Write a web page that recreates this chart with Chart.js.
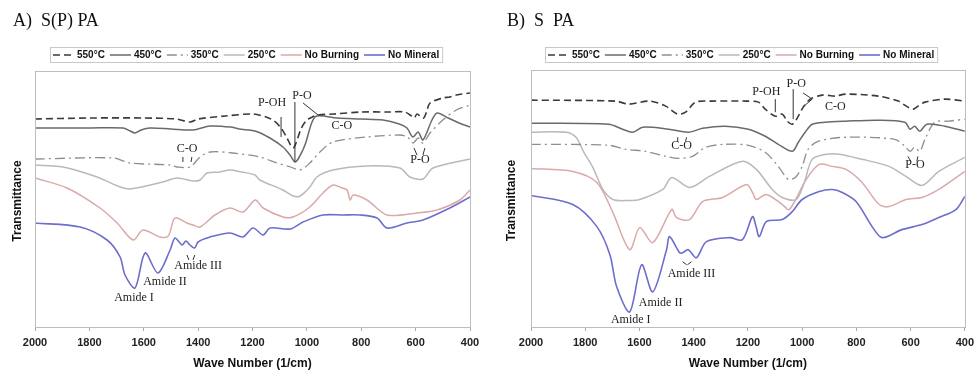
<!DOCTYPE html>
<html>
<head>
<meta charset="utf-8">
<script src="https://cdn.jsdelivr.net/npm/chart.js@4.4.0/dist/chart.umd.min.js"></script>
<style>
    body { margin: 0; background: #fff; }
    .panel { position: absolute; top: 0; height: 378px; }
    #panelA { left: 0; width: 490px; }
    #panelB { left: 490px; width: 489px; }
</style>
</head>
<body>
<div class="panel" id="panelA"><canvas id="chartA"></canvas></div>
<div class="panel" id="panelB"><canvas id="chartB"></canvas></div>
<script>
// series names (legend order)
const seriesLabels = ['550°C', '450°C', '350°C', '250°C', 'No Burning', 'No Mineral'];
const xTicks = [2000, 1800, 1600, 1400, 1200, 1000, 800, 600, 400];

// ---- A) S(P) PA  (wave number, transmittance in arbitrary units) ----
const a550wn = [2000,1800,1600,1480,1430,1400,1300,1200,1150,1120,1095,1075,1060,1050,1040,1020,1000,980,960,900,800,700,640,615,605,595,580,570,560,547,500,474,450,400];
const a550 = [208,209,209,208,205,208,211,213,210,206,199,190,182,179,184,199,207,210,212,213,215,215,215,211,209,213,210,209,215,224,229,230,232,234];
const a450wn = [2000,1800,1676,1650,1632,1610,1577,1500,1419,1356,1280,1250,1191,1136,1088,1062,1044,1030,1007,981,963,889,800,720,660,632,610,591,573,540,521,480,440,400];
const a450 = [199,199,199,196,194,197,199,198,197,201,200,198,196,189,180,172,165,169,182,205,211,209,208,207,203,199,190,195,187,207,214,209,204,200];
const a350wn = [2000,1713,1650,1503,1478,1430,1393,1356,1272,1173,1110,1060,1025,989,952,904,779,658,630,610,590,573,547,500,450,400];
const a350 = [168,169,164,162,160,160,170,175,174,170,164,160,157,164,175,185,190,192,190,184,189,184,194,207,217,222];
const a250wn = [2000,1897,1772,1687,1650,1529,1478,1419,1393,1367,1320,1283,1240,1191,1173,1088,1051,1025,989,963,904,779,658,621,573,536,400];
const a250 = [162,160,150,140,138,145,149,146,147,154,155,157,155,152,147,137,131,131,140,150,157,161,159,150,148,159,168];
const aBurnWn = [2000,1882,1761,1698,1639,1603,1540,1510,1485,1441,1419,1393,1338,1283,1235,1190,1161,1088,1051,989,941,904,870,852,841,830,779,705,595,521,437,400];
const aBurn = [149,139,119,104,87,97,90,91,109,104,102,100,112,119,115,127,119,110,110,120,134,142,139,137,127,132,127,112,114,117,127,137];
const aMinWn = [2000,1834,1735,1687,1669,1632,1595,1548,1503,1485,1459,1445,1430,1413,1400,1356,1283,1235,1198,1161,1136,1062,1014,941,867,805,742,705,632,573,474,400];
const aMin = [104,100,87,70,52,39,74,54,77,89,82,86,82,79,85,90,94,90,99,92,99,98,105,112,112,112,109,99,104,107,119,130];

// band labels: text, wave number, transmittance
const aNotes = [['P-OH',1128,224],['P-O',1018,231],['C-O',871,201],['P-O',584,167],['C-O',1441,178],
                ['Amide I',1636,29],['Amide II',1522,45],['Amide III',1400,61]];
const aPointers = [[1095,210,1095,190],[1044,225,1044,165],[1014,224,959,212],[606,179,595,172],[566,179,573,172],
                   [1456,170,1456,165],[1423,170,1426,165],[1441,72,1434,67],[1412,72,1419,67]];

// ---- B) S PA ----
const b550wn = [2000,1687,1640,1562,1503,1459,1430,1393,1331,1209,1161,1136,1099,1073,1055,1036,1014,996,970,926,878,841,720,646,610,591,573,547,474,400];
const b550 = [226,225,222,225,220,212,214,224,225,225,224,217,210,212,205,202,210,219,227,231,230,232,230,225,219,217,220,224,227,225];
const b450wn = [2000,1713,1662,1625,1588,1492,1419,1367,1283,1198,1136,1088,1036,1014,989,963,915,841,720,621,602,585,566,540,474,400];
const b450 = [203,202,197,194,199,197,194,198,200,197,190,182,175,184,194,202,204,205,206,204,197,200,195,202,200,195];
const b350wn = [2000,1713,1651,1577,1503,1456,1404,1356,1283,1198,1136,1088,1062,1050,1025,1000,978,941,841,658,621,602,585,566,547,511,463,400];
const b350 = [182,181,177,175,170,168,170,179,182,181,174,160,150,147,149,160,177,185,189,187,180,175,179,175,187,204,205,207];
const b250wn = [2000,1871,1834,1805,1772,1735,1698,1640,1599,1514,1481,1415,1342,1220,1169,1110,1073,1022,992,963,911,863,779,680,617,558,496,400];
const b250 = [194,194,189,174,159,137,127,126,127,137,149,139,150,165,157,137,129,127,144,167,172,172,167,160,150,141,155,169];
const bBurnWn = [2000,1846,1757,1698,1636,1599,1551,1481,1463,1415,1367,1294,1205,1183,1169,1132,1073,1047,985,937,889,838,779,716,680,617,558,496,400];
const bBurn = [158,155,144,114,77,99,84,117,109,107,125,129,142,134,127,132,122,117,147,162,160,157,144,122,120,127,129,137,155];
const bMinWn = [2000,1846,1757,1709,1684,1636,1592,1551,1500,1489,1452,1441,1420,1390,1353,1268,1220,1183,1170,1158,1132,1073,1036,1000,937,889,852,801,742,705,632,558,496,433,400];
const bMin = [131,122,100,72,40,15,62,35,77,90,74,74,77,69,85,89,87,110,100,90,105,107,115,127,135,137,134,125,100,89,97,102,109,117,130];

const bNotes = [['P-OH',1132,234],['P-O',1022,242],['C-O',878,219],['P-O',584,162],['C-O',1445,180],
                ['Amide I',1632,7],['Amide II',1522,24],['Amide III',1408,53]];
const bPointers = [[1099,227,1099,214],[1033,237,1033,207],[996,233,963,227],[963,227,989,221],[610,170,599,165],[573,170,577,165],
                   [1459,189,1459,185],[1426,189,1430,185],[1441,65,1426,62],[1408,65,1423,62]];

// line styles, same order as seriesLabels
const styles = [
    { color: '#3a3a3a', width: 1.6, dash: [7, 4] },
    { color: '#6a6a6a', width: 1.5, dash: [] },
    { color: '#8e8e8e', width: 1.3, dash: [10, 4, 2, 4] },
    { color: '#b9b9b9', width: 1.5, dash: [] },
    { color: '#dba9a9', width: 1.5, dash: [] },
    { color: '#6d6dcc', width: 1.6, dash: [] }
];

const SANS = '"Liberation Sans", Arial, sans-serif';
const SERIF = '"Liberation Serif", "Times New Roman", serif';

function toPoints(wn, vals) {
    return wn.map((w, i) => ({ x: w, y: vals[i] }));
}

function buildDatasets(pairs) {
    return pairs.map((p, i) => ({
        label: seriesLabels[i],
        data: toPoints(p[0], p[1]),
        borderColor: styles[i].color,
        borderWidth: styles[i].width,
        borderDash: styles[i].dash,
        pointRadius: 0,
        tension: 0.3,
        fill: false
    }));
}

// frame, title, y title, legend and band labels
const decorPlugin = {
    id: 'decor',
    afterDraw(chart, args, opts) {
        const { ctx, chartArea: a, scales: { x, y } } = chart;
        ctx.save();

        ctx.strokeStyle = '#bdbdbd';
        ctx.lineWidth = 1;
        ctx.strokeRect(Math.round(a.left) + 0.5, Math.round(a.top) + 0.5, Math.round(a.width), Math.round(a.height));

        ctx.fillStyle = '#111';
        ctx.font = '18px ' + SERIF;
        ctx.textAlign = 'left';
        ctx.textBaseline = 'alphabetic';
        ctx.fillText(opts.title, opts.titleX, 26);

        ctx.save();
        ctx.translate(opts.yTitleX, (a.top + a.bottom) / 2 + 2);
        ctx.rotate(-Math.PI / 2);
        ctx.font = 'bold 12px ' + SANS;
        ctx.textAlign = 'center';
        ctx.textBaseline = 'middle';
        ctx.fillText('Transmittance', 0, 0);
        ctx.restore();

        // legend
        ctx.font = 'bold 10px ' + SANS;
        ctx.textBaseline = 'middle';
        ctx.textAlign = 'left';
        let lx = opts.legendX + 3;
        const ly = 55;
        chart.data.datasets.forEach(ds => {
            ctx.strokeStyle = ds.borderColor;
            ctx.lineWidth = ds.borderWidth;
            ctx.setLineDash(ds.borderDash);
            ctx.beginPath();
            ctx.moveTo(lx, ly);
            ctx.lineTo(lx + 21, ly);
            ctx.stroke();
            ctx.setLineDash([]);
            lx += 24;
            ctx.fillStyle = '#111';
            ctx.fillText(ds.label, lx, ly);
            lx += ctx.measureText(ds.label).width + 5;
        });
        ctx.strokeStyle = '#c8c8c8';
        ctx.lineWidth = 1;
        ctx.strokeRect(opts.legendX + 0.5, 47.5, lx - opts.legendX - 2, 15);

        // band pointers and labels
        ctx.strokeStyle = '#333';
        ctx.lineWidth = 1;
        opts.pointers.forEach(p => {
            ctx.beginPath();
            ctx.moveTo(x.getPixelForValue(p[0]), y.getPixelForValue(p[1]));
            ctx.lineTo(x.getPixelForValue(p[2]), y.getPixelForValue(p[3]));
            ctx.stroke();
        });
        ctx.fillStyle = '#222';
        ctx.font = '12px ' + SERIF;
        ctx.textAlign = 'center';
        ctx.textBaseline = 'middle';
        opts.notes.forEach(n => {
            ctx.fillText(n[0], x.getPixelForValue(n[1]), y.getPixelForValue(n[2]));
        });
        ctx.restore();
    }
};

function makeChart(id, datasets, pad, decor) {
    const ctx = document.getElementById(id).getContext('2d');
    return new Chart(ctx, {
        type: 'line',
        data: { datasets: datasets },
        options: {
            responsive: true,
            maintainAspectRatio: false,
            animation: false,
            layout: { padding: pad },
            plugins: {
                legend: { display: false },
                tooltip: { enabled: false },
                decor: decor
            },
            scales: {
                x: {
                    type: 'linear',
                    reverse: true,
                    min: 400,
                    max: 2000,
                    afterBuildTicks: scale => { scale.ticks = xTicks.map(v => ({ value: v })); },
                    afterFit: scale => { scale.height = 51; },
                    border: { display: false },
                    grid: { drawOnChartArea: false, drawTicks: true, tickLength: 4, color: '#aaa' },
                    ticks: {
                        autoSkip: false,
                        maxRotation: 0,
                        padding: 5,
                        color: '#222',
                        font: { family: SANS, size: 11, weight: 'bold' },
                        callback: v => String(v)
                    },
                    title: {
                        display: true,
                        text: 'Wave Number (1/cm)',
                        color: '#111',
                        font: { family: SANS, size: 12, weight: 'bold' },
                        padding: { top: 0, bottom: 7 }
                    }
                },
                y: { display: false, min: 0, max: 256 }
            }
        },
        plugins: [decorPlugin]
    });
}

document.addEventListener('DOMContentLoaded', function() {
    makeChart('chartA', buildDatasets([
        [a550wn, a550], [a450wn, a450], [a350wn, a350], [a250wn, a250], [aBurnWn, aBurn], [aMinWn, aMin]
    ]), { left: 35, right: 20, top: 71, bottom: 0 }, {
        title: 'A)  S(P) PA', titleX: 13, yTitleX: 18, legendX: 50, notes: aNotes, pointers: aPointers
    });

    makeChart('chartB', buildDatasets([
        [b550wn, b550], [b450wn, b450], [b350wn, b350], [b250wn, b250], [bBurnWn, bBurn], [bMinWn, bMin]
    ]), { left: 41, right: 13, top: 70, bottom: 0 }, {
        title: 'B)  S  PA', titleX: 17, yTitleX: 22, legendX: 55, notes: bNotes, pointers: bPointers
    });
});
</script>
</body>
</html>
